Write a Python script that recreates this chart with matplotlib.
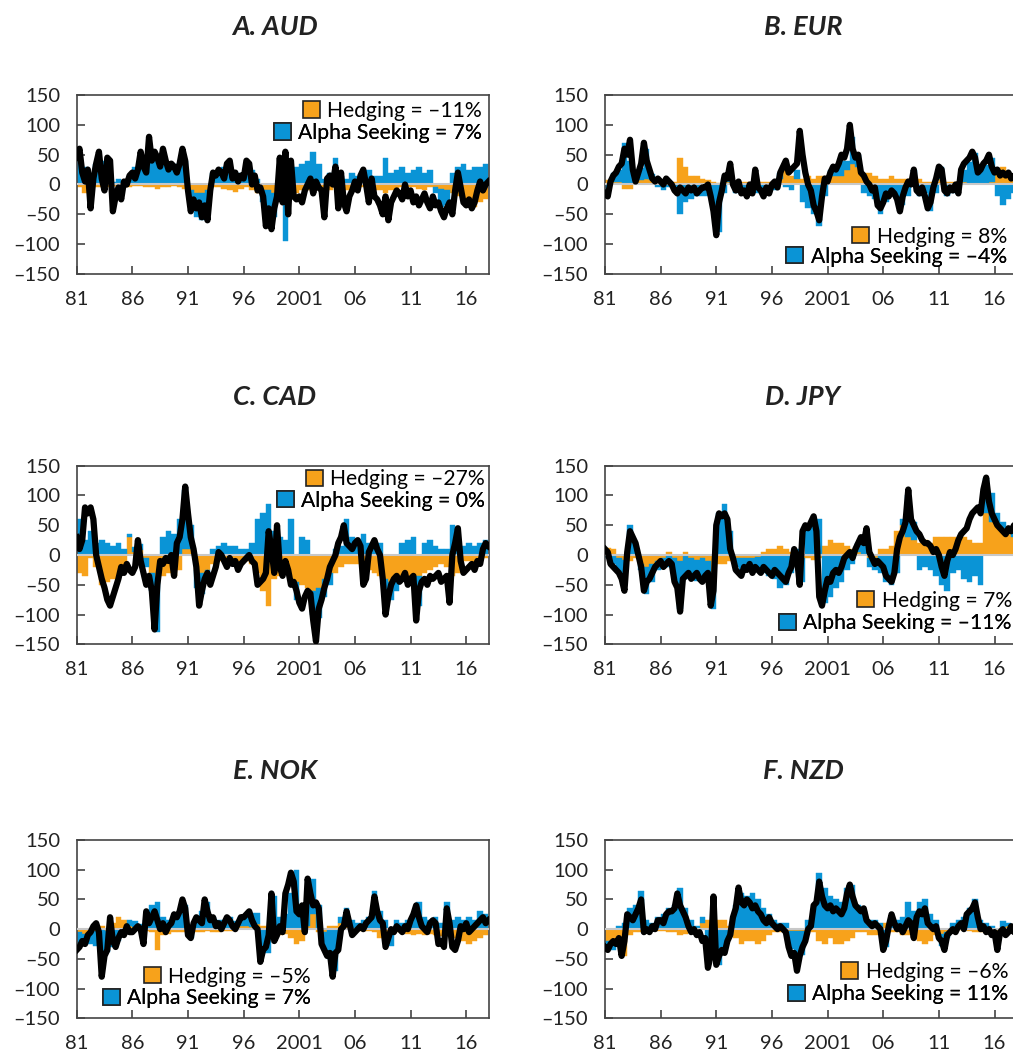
import numpy as np
import matplotlib
matplotlib.use('Agg')
import matplotlib.pyplot as plt
from matplotlib.patches import Patch

# quarterly total (black line), semiannual hedging / alpha seeking bars
# values, 1981 .. 2018

aud_line = [
    45, 60, 20, 5,  25, -40, 10, 35,  55, 10, -10, 45,  40, -45, -20, -5,  -25, 5, 0, 15,
    20, 10, 25, 55,  30, 20, 80, 40,  55, 45, 30, 60,  40, 25, 35, 30,  20, 35, 60, 40,
    -10, -45, -25, -40,  -30, -55, -35, -60,  -10, 20, 15, 25,  20, 10, 35, 40,  10, 20, 5, 15,
    10, 40, 35, 0,  15, -10, -5, -20,  -70, -40, -75, -40,  -20, 45, -30, 55,  -50, 40, -20, -25,
    -20, -30, -10, 0,  10, -15, 5, -5,  -10, -55, 10, 15,  0, 30, -40, 20,  -30, -45, -20, -10,
    5, -10, 15, 25,  0, -30, 10, -20,  -25, -35, -50, -20,  -60, -30, -20, -10,  -15, -25, 0, -20,
    -10, -30, -20, -35,  -25, -15, -30, -40,  -20, -35, -30, -45,  -55, -40, -30, -50,  -10, 20, -5, -30,
    -35, -25, -40, -30,  -10, 5, -10, 0,  5,
]
aud_hedge = [
    -5, -15, -10, -5, -5, -5, -3, -5, -5, -5, -3, -3, -5, -5, -8, -5, -5, -3, -5, -8,
    -10, -15, -15, -10, -5, -5, -8, -10, -12, -8, -5, -10, -15, -10, -10, -15, -20, -25, -20, -15,
    -10, -10, -5, -10, -15, -10, -5, -5, -10, -10, -5, -5, -8, -10, -10, -15, -10, -8, -5, -5,
    -5, -8, -10, -5, -5, -8, -10, -15, -20, -25, -30, -38, -30, -25,
]
aud_alpha = [
    40, 30, 20, 35, 40, 15, 5, 10, 5, 15, 30, 45, 40, 45, 50, 45, 30, 35, 30, 40,
    -20, -40, -45, -30, 20, 25, 30, 25, 15, 20, 30, 25, 10, -20, -30, -40, 30, -70, 20, 30,
    35, 40, 55, 35, 10, 20, 45, 15, 10, 20, 15, 20, 25, 15, 15, 45, 20, 25, 30, 20,
    25, 30, 20, 25, -10, -30, -25, 20, 30, 35, 25, 30, 30, 35,
]

eur_line = [
    -15, -20, 5, 15,  20, 30, 35, 60,  50, 75, 25, 5,  20, 35, 70, 40,  25, 10, 5, 10,
    5, 0, 10, 5,  0, -10, -15, -5,  -10, -15, -5, -10,  -5, -15, -10, -5,  -5, 0, -20, -45,
    -85, -30, -10, 15,  10, 35, 0, -10,  5, -15, -10, -20,  0, -15, 25, -5,  -10, -20, -5, -15,
    0, 5, -5, 20,  30, 40, 20, 25,  30, 35, 90, 50,  20, 0, -10, -35,  -45, -60, -20, 10,
    5, 20, 30, 25,  35, 50, 45, 60,  100, 60, 45, 50,  20, 15, 5, 0,  -10, -5, -35, -40,
    -30, -15, -20, -10,  -15, -25, -45, -20,  -5, 5, 0, 25,  -10, -15, -5, -20,  -40, -30, -5, 10,
    30, 25, -10, -15,  -5, -10, 0, -15,  25, 35, 40, 45,  55, 45, 20, 25,  35, 40, 50, 30,
    20, 25, 15, 20,  15, 20, 10, 15,  10,
]
eur_hedge = [
    8, 5, 5, -8, -8, 5, 8, 10, 8, 5, 5, 5, 5, 45, 30, 15, 15, 10, 8, 5,
    3, 5, 5, 5, 5, 5, 3, 5, 5, 5, 5, 10, 25, 15, 10, 10, 15, 10, 15, 15,
    15, 15, 15, 25, 35, 30, 20, 20, 15, 10, 10, 15, 10, 10, 10, 15, 10, 5, 5, 5,
    10, 5, 5, 5, 5, 3, 3, 0, 3, 5, 25, 30, 20, 15,
]
eur_alpha = [
    -10, 15, 20, 70, 40, 10, 20, 50, 10, -5, -10, -5, -10, -50, -30, -25, -20, -20, -20, -35,
    -80, -15, 20, -15, -15, -20, -10, -15, -15, -15, -10, 10, -5, -10, 15, -30, -40, -50, -70, -20,
    10, 15, 25, 15, 45, 20, -15, -20, -25, -50, -30, -20, -25, -35, -20, 10, -20, -15, -45, -15,
    20, -20, -15, -10, 20, 35, 50, 25, 30, 40, -20, -35, -25, -15,
]

cad_line = [
    30, 10, 25, 80,  70, 80, 60, 0,  -20, -40, -55, -75,  -85, -70, -55, -40,  -20, -30, -15, -25,
    -30, -20, 25, -10,  -30, -50, -35, -60,  -125, -50, -10, -15,  -5, -10, 0, -35,  20, 30, 60, 115,
    70, 30, 10, -20,  -85, -60, -40, -30,  -50, -35, -20, 5,  0, -10, -20, -5,  -15, -10, -25, -15,
    -10, -5, 0, -10,  -15, -50, -45, -40,  -30, 40, 10, -30,  50, -20, -35, -10,  -25, -50, -45, -60,
    -80, -90, -70, -60,  -65, -110, -145, -90,  -75, -55, -40, -20,  -10, 0, 20, 30,  50, 20, 15, 10,
    20, 25, 15, -50,  -40, 5, 15, 25,  10, 0, -40, -100,  -70, -50, -40, -35,  -45, -40, -30, -50,
    -40, -35, -110, -60,  -45, -40, -50, -35,  -40, -35, -30, -45,  -40, -35, -80, 0,  20, 45, -10, -30,
    -25, -20, -15, -25,  -10, -15, 10, 20,  15,
]
cad_hedge = [
    -30, -35, -5, -20, -50, -45, -40, -35, -30, 30, 5, 8, -5, -30, -45, -35, -30, -35, -25, 10,
    10, -25, -30, -25, -15, -10, -10, -15, -15, -10, -10, -15, -30, -60, -85, -40, -35, -25, -40, -45,
    -50, -55, -60, -55, -40, -30, -30, -20, -15, -15, -15, -20, -25, -30, -35, -40, -45, -40, -35, -40,
    -45, -35, -30, -25, -20, -15, -20, -35, -30, -10, -10, -15, -10, -5,
]
cad_alpha = [
    60, 25, 40, 20, 25, 20, 15, 20, 10, 5, 8, 10, -15, -30, -85, 30, 40, 35, 60, 100,
    40, -30, -35, -20, 10, 15, 20, 15, 15, 10, 10, 20, 60, 70, 85, 40, 30, 25, 60, -30,
    30, 25, -40, -50, -30, -20, 10, 15, 60, 30, 25, 35, 20, 25, 20, -40, -30, -20, 20, 25,
    30, -50, 20, 25, 15, 10, 10, 50, 25, 15, 20, 15, 20, 25,
]

jpy_line = [
    10, 5, -15, -20,  -25, -30, -40, -60,  5, 40, 30, 20,  0, -20, -60, -45,  -40, -30, -20, -15,
    -10, -20, -15, -10,  -15, -45, -55, -95,  -40, -35, -30, -40,  -35, -30, -40, -45,  -35, -30, -85, -60,
    50, 70, 65, 70,  60, 10, -5, -25,  -30, -35, -20, -25,  -15, -30, -20, -25,  -30, -20, -25, -30,
    -35, -25, -30, -35,  -40, -45, -30, -20,  10, -5, -50, 40,  50, 45, 55, 65,  40, -70, -85, -60,
    -40, -45, -30, -25,  -30, -20, -5, 0,  5, -5, 10, 20,  30, 20, 45, 5,  -5, -15, -10, -15,
    -20, -35, -40, -45,  -30, 10, 30, 40,  55, 110, 60, 50,  40, 35, 25, 20,  20, 15, 5, 10,
    0, -20, -35, -10,  5, 0, 10, 25,  35, 40, 45, 60,  70, 75, 80, 70,  110, 130, 90, 70,
    60, 50, 45, 40,  35, 45, 40, 50,  40,
]
jpy_hedge = [
    12, 10, -5, -8, -10, -5, -15, -20, -15, -10, -5, 5, -5, -10, 5, -5, -8, -5, -10, -30,
    -15, -15, -10, -5, -5, -5, -5, -3, 5, 10, 10, 15, 10, 5, -5, -5, -5, -8, -5, 15,
    25, 20, 20, 15, 10, 5, 0, -5, -5, 10, 10, 15, 40, 50, 30, 25, 20, 25, 20, 30,
    30, 30, 30, 25, 30, 25, 20, 20, 70, 55, 50, 40, 35, 30,
]
jpy_alpha = [
    -5, -15, -25, -40, 50, 15, -10, -45, -30, -15, -10, -20, -40, -80, -40, -30, -35, -40, -30, -60,
    70, 85, 40, -15, -25, -20, -20, -25, -30, -35, -40, -55, -50, -30, 10, -40, 50, 55, 60, -80,
    -70, -55, -45, -25, -15, 15, 25, -15, -20, -30, -45, -50, -30, 10, 70, 30, -25, -20, -25, -35,
    -50, -60, -30, -25, -40, -45, -35, -50, 60, 50, 20, 15, 10, 15,
]

nok_line = [
    -35, -30, -20, -25,  -10, -5, 5, 10,  -5, -80, -45, -35,  20, -20, -30, -15,  -5, -10, 5, -5,
    -5, 0, 5, 0,  -25, 30, 10, 20,  30, 15, 0, 10,  -5, 5, 10, 25,  20, 30, 50, 35,
    -10, -15, 10, 20,  15, 10, 50, 30,  15, 20, 5, 10,  0, 10, 20, 15,  5, 0, 10, 20,
    20, 25, 30, 15,  5, 0, -55, -35,  -30, -10, 60, -20,  -10, 5, -5, 60,  75, 95, 80, 30,
    25, 40, -5, 85,  60, 40, 45, 35,  -25, -35, -45, -40,  -80, -40, -35, 0,  5, 30, 10, -10,
    -5, 0, 5, 0,  10, 15, 20, 55,  30, 15, 10, -30,  -15, 0, -5, 5,  0, -5, 5, 0,
    15, 25, 40, 20,  5, 0, -5, 10,  15, 10, -25, -20,  -30, 35, 10, -30,  -35, -20, 5, 0,
    10, -5, 0, 5,  10, 15, 20, 10,  15,
]
nok_hedge = [
    -5, -8, -5, -3, 5, -3, 10, 20, 15, 5, 3, 3, -3, -5, -35, -10, -8, -5, -5, -5,
    -5, -5, -5, -3, -5, -5, -3, -3, 3, 5, 5, 3, 8, 5, -5, -5, -10, -8, -15, -25,
    -20, 5, 25, -5, -5, 5, 5, 10, 15, -3, -3, -3, -3, -5, -15, -20, -8, -5, -5, -8,
    -10, -8, -10, -8, -10, -12, -10, -15, -15, -20, -25, -20, -15, -10,
]
nok_alpha = [
    -20, -15, -20, -25, -45, -35, -30, -20, -5, 10, 10, 5, 15, 40, 45, 20, 15, 20, 25, 40,
    -10, 20, 30, 45, 20, 15, 15, 20, 10, 15, 20, 25, 20, -40, -35, 55, 20, 25, 60, 100,
    40, 55, 60, 40, -30, -50, -70, 10, 20, 15, 10, 15, 20, 65, 30, 15, -20, 15, 10, 15,
    25, 45, 20, 15, 20, 10, 45, 15, 20, 15, 20, 15, 30, 25,
]

nzd_line = [
    -30, -35, -25, -20,  -25, -15, -45, -20,  25, 20, 15, 25,  35, 50, -5, 0,  -5, 5, 0, 15,
    15, 10, 25, 30,  30, 35, 60, 40,  30, 20, 5, -5,  0, -10, -5, -20,  -15, -65, -45, 55,
    -60, -45, -35, -40,  -20, -10, 20, 35,  70, 45, 40, 50,  45, 35, 40, 30,  25, 15, 10, 20,
    10, 5, 0, 5,  0, -5, -30, -45,  -40, -70, -45, -30,  -20, 0, 5, 40,  45, 80, 55, 40,
    35, 40, 30, 35,  30, 25, 35, 60,  75, 55, 40, 35,  30, 35, 15, 10,  5, 10, 5, 0,
    -35, -20, 5, 25,  10, 0, 5, -5,  5, 15, 10, -15,  20, 30, 25, 35,  10, 5, 0, 5,
    -15, -20, -35, -10,  -5, 0, -5, 5,  10, 0, 25, 30,  35, 45, 20, 0,  5, -5, 0, -10,
    -5, -35, -5, 0,  -10, -5, 5, -5,  5,
]
nzd_hedge = [
    -20, -25, -20, -45, -10, -5, -5, -3, 0, -3, -3, -5, -5, -10, -8, -5, -5, 10, 15, 10,
    15, 15, 5, -15, -25, -20, -20, -25, -20, -10, -5, -5, -3, -3, -3, -3, -3, -5, -20, -25,
    -15, -25, -25, -20, -15, -5, -5, -10, -10, -8, 10, -5, -5, -10, -10, -15, -20, -25, -20, -10,
    -8, -5, -3, -2, -2, -3, -5, -5, -5, -5, -3, 3, 5, 3,
]
nzd_alpha = [
    -10, -10, 5, 10, 35, 40, 65, 15, 10, 20, 25, 35, 40, 70, 35, 15, 5, 10, -50, 40,
    -60, -40, -10, 40, 60, 55, 60, 50, 35, 25, 15, 10, 10, -30, -50, -40, 15, 30, 95, 70,
    55, 50, 45, 70, 75, 40, 30, 15, 15, 10, -30, 20, 15, 20, 45, 30, 45, 50, 25, 15,
    -20, -10, 10, 15, 20, 35, 50, 15, 10, 5, -30, 10, 5, -5,
]

titles = ['A. AUD', 'B. EUR', 'C. CAD', 'D. JPY', 'E. NOK', 'F. NZD']
hedge_labels = ['Hedging = –11%', 'Hedging = 8%', 'Hedging = –27%',
                'Hedging = 7%', 'Hedging = –5%', 'Hedging = –6%']
alpha_labels = ['Alpha Seeking = 7%', 'Alpha Seeking = –4%', 'Alpha Seeking = 0%',
                'Alpha Seeking = –11%', 'Alpha Seeking = 7%', 'Alpha Seeking = 11%']

year_ticks = [1981, 1986, 1991, 1996, 2001, 2006, 2011, 2016]
year_labels = ['81', '86', '91', '96', '2001', '06', '11', '16']

ORANGE = '#F7A21B'
BLUE = '#0A94D6'

plt.rcParams['font.family'] = ['Lato', 'DejaVu Sans']

t_line = 1981 + 0.25 * np.arange(len(aud_line))
t_bar = 1981 + 0.5 * np.arange(len(aud_hedge))

fig = plt.figure(figsize=(10.13, 10.57), dpi=100)

panels = [
    (aud_line, aud_hedge, aud_alpha, [0.0757, 0.7408, 0.4073, 0.1693], (0.2715, 0.9745), (0.982, 0.912, 0.789)),
    (eur_line, eur_hedge, eur_alpha, [0.5972, 0.7408, 0.4073, 0.1693], (0.7927, 0.9745), (0.974, 0.208, 0.097)),
    (cad_line, cad_hedge, cad_alpha, [0.0757, 0.3904, 0.4073, 0.1690], (0.2715, 0.6244), (0.990, 0.924, 0.804)),
    (jpy_line, jpy_hedge, jpy_alpha, [0.5972, 0.3904, 0.4073, 0.1690], (0.7927, 0.6244), (0.986, 0.244, 0.118)),
    (nok_line, nok_hedge, nok_alpha, [0.0757, 0.0366, 0.4073, 0.1687], (0.2715, 0.2706), (0.568, 0.234, 0.112)),
    (nzd_line, nzd_hedge, nzd_alpha, [0.5972, 0.0366, 0.4073, 0.1687], (0.7927, 0.2706), (0.977, 0.261, 0.135)),
]


def add_key(ax, color, text, x, y):
    h = Patch(facecolor=color, edgecolor='#222222', linewidth=1.2)
    leg = ax.legend([h], [text], loc='center right', bbox_to_anchor=(x, y),
                    frameon=False, borderpad=0, borderaxespad=0,
                    handlelength=0.8, handleheight=0.8, handletextpad=0.35,
                    fontsize=15.2)
    ax.add_artist(leg)


for i, (line, hedge, alpha, pos, tpos, kpos) in enumerate(panels):
    ax = fig.add_axes(pos)
    hedge = np.array(hedge, dtype=float)
    alpha = np.array(alpha, dtype=float)
    # alpha sits on top of hedging when both point the same way
    bottom = np.where(np.sign(alpha) == np.sign(hedge), hedge, 0)

    ax.bar(t_bar, hedge, width=0.5, align='edge', color=ORANGE, linewidth=0.3,
           edgecolor=ORANGE, zorder=1)
    ax.bar(t_bar, alpha, width=0.5, bottom=bottom, align='edge', color=BLUE,
           linewidth=0.3, edgecolor=BLUE, zorder=2)
    ax.axhline(0, color='#c8c8c8', lw=1.5, zorder=3)
    ax.plot(t_line, line, color='black', lw=4.5, solid_joinstyle='round', zorder=4)

    ax.set_xlim(1981, 2018.07)
    ax.set_ylim(-150, 150)
    ax.set_yticks(range(-150, 151, 50))
    ax.set_yticklabels([str(v).replace('-', '–') for v in range(-150, 151, 50)])
    ax.set_xticks(year_ticks)
    ax.set_xticklabels(year_labels)
    ax.tick_params(direction='in', length=6, width=1.2, pad=12, labelsize=14.5,
                   color='#444444', labelcolor='#222222')
    for s in ax.spines.values():
        s.set_color('#444444')
        s.set_linewidth(1.2)

    add_key(ax, ORANGE, hedge_labels[i], kpos[0], kpos[1])
    add_key(ax, BLUE, alpha_labels[i], kpos[0], kpos[2])

    fig.text(tpos[0], tpos[1], titles[i], ha='center', va='center', fontsize=19.5,
             fontweight='bold', fontstyle='italic', color='#222222')

fig.savefig('out.png', dpi=100)
